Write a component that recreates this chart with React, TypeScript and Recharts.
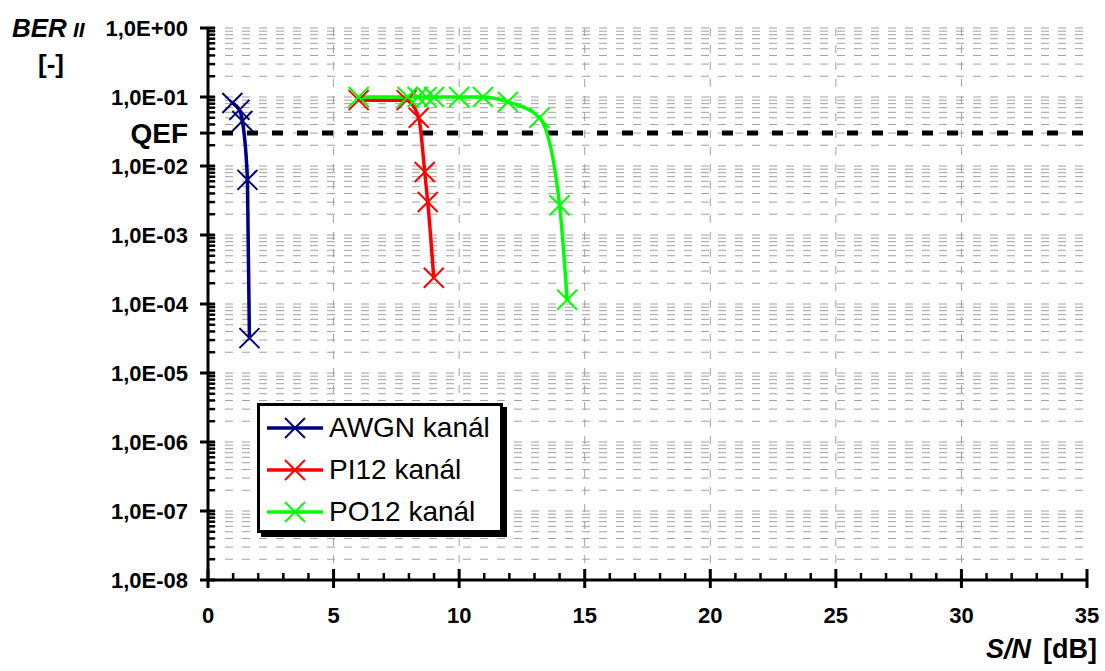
import React from 'react';
import { LineChart, Line, XAxis, YAxis, CartesianGrid, ReferenceLine, Legend } from 'recharts';

// S/N [dB] and BER values
const awgnSnr = [0.97, 1.25, 1.37, 1.57, 1.65];
const awgnBer = [0.082, 0.065, 0.045, 0.0063, 3.2e-5];

const pi12Snr = [6.0, 7.91, 8.39, 8.63, 8.75, 8.99];
const pi12Ber = [0.09, 0.09, 0.05, 0.0082, 0.003, 2.4e-4];

const po12Snr = [6.0, 7.95, 8.35, 8.7, 9.0, 10.0, 10.95, 11.94, 13.2, 14.0, 14.3];
const po12Ber = [0.1, 0.1, 0.1, 0.1, 0.1, 0.1, 0.1, 0.085, 0.05, 0.0027, 1.15e-4];

const qef = 0.03;

const xTicks = [0, 1, 2, 3, 4, 5, 6, 7, 8, 9, 10, 11, 12, 13, 14, 15, 16, 17, 18, 19, 20,
  21, 22, 23, 24, 25, 26, 27, 28, 29, 30, 31, 32, 33, 34, 35];
const xMajor = [0, 5, 10, 15, 20, 25, 30, 35];
const xGrid = [5, 10, 15, 20, 25, 30];

const decadeExps = [0, -1, -2, -3, -4, -5, -6, -7, -8];
const minorMult = [2, 3, 4, 5, 6, 7, 8, 9];

const yTicks: number[] = [];
decadeExps.forEach((e) => {
  yTicks.push(Math.pow(10, e));
  if (e < 0) minorMult.forEach((m) => yTicks.push(m * Math.pow(10, e)));
});

const series = [
  { name: 'AWGN kanál', color: '#000080', data: awgnSnr.map((x, i) => ({ x, y: awgnBer[i] })) },
  { name: 'PI12 kanál', color: '#ff0000', data: pi12Snr.map((x, i) => ({ x, y: pi12Ber[i] })) },
  { name: 'PO12 kanál', color: '#00ff00', data: po12Snr.map((x, i) => ({ x, y: po12Ber[i] })) },
];

const FONT = '"Liberation Sans", Arial, sans-serif';

const isDecade = (v: number) => Math.abs(Math.log10(v) - Math.round(Math.log10(v))) < 1e-6;

const fmtDecade = (v: number) => {
  const e = Math.round(Math.log10(v));
  return e >= 0 ? '1,0E+0' + e : '1,0E-0' + -e;
};

const YTick = (props: any) => {
  const { x, y, payload } = props;
  const v = payload.value;
  if (isDecade(v)) {
    return (
      <g>
        <line x1={x - 8} x2={x + 7} y1={y} y2={y} stroke="#000" strokeWidth={3} />
        <text x={x - 20} y={y + 8} textAnchor="end" fontFamily={FONT} fontWeight="bold" fontSize={22} fill="#000">
          {fmtDecade(v)}
        </text>
      </g>
    );
  }
  const isQef = Math.abs(v - qef) < 1e-9;
  return (
    <g>
      <line x1={x} x2={x + 7} y1={y} y2={y} stroke="#000" strokeWidth={2.5} />
      {isQef && <line x1={x - 8} x2={x} y1={y} y2={y} stroke="#000" strokeWidth={3} />}
      {isQef && (
        <text x={x - 20} y={y + 10} textAnchor="end" fontFamily={FONT} fontWeight="bold" fontSize={28} fill="#000">
          QEF
        </text>
      )}
    </g>
  );
};

const XTick = (props: any) => {
  const { x, y, payload } = props;
  const v = payload.value;
  if (xMajor.includes(v)) {
    return (
      <g>
        <line x1={x} x2={x} y1={y - 11} y2={y + 8} stroke="#000" strokeWidth={3} />
        <text x={x} y={y + 43} textAnchor="middle" fontFamily={FONT} fontWeight="bold" fontSize={22} fill="#000">
          {v}
        </text>
      </g>
    );
  }
  return <line x1={x} x2={x} y1={y - 7} y2={y} stroke="#000" strokeWidth={2.5} />;
};

const XMark = (props: any) => {
  const { cx, cy, stroke, index } = props;
  if (cx == null || cy == null) return <g key={index} />;
  return (
    <g key={index}>
      <line x1={cx - 10} y1={cy - 10} x2={cx + 10} y2={cy + 10} stroke={stroke} strokeWidth={2} />
      <line x1={cx - 10} y1={cy + 10} x2={cx + 10} y2={cy - 10} stroke={stroke} strokeWidth={2} />
    </g>
  );
};

const LegendBox = () => (
  <div
    style={{
      boxSizing: 'border-box',
      width: 246,
      height: 130,
      background: '#fff',
      border: '3px solid #000',
      boxShadow: '4px 4px 0 #000',
      paddingTop: 1,
      fontFamily: FONT,
    }}
  >
    {series.map((s) => (
      <div key={s.name} style={{ display: 'flex', alignItems: 'center', height: 42 }}>
        <svg width={56} height={24} style={{ marginLeft: 7, marginRight: 6 }}>
          <line x1={0} x2={56} y1={12} y2={12} stroke={s.color} strokeWidth={3.5} />
          <line x1={18} y1={2} x2={38} y2={22} stroke={s.color} strokeWidth={2} />
          <line x1={18} y1={22} x2={38} y2={2} stroke={s.color} strokeWidth={2} />
        </svg>
        <span style={{ fontSize: 28, color: '#000', whiteSpace: 'nowrap' }}>{s.name}</span>
      </div>
    ))}
  </div>
);

export default function App() {
  return (
    <div style={{ position: 'absolute', left: 0, top: 0, width: 1105, height: 671, background: '#fff' }}>
      <LineChart width={1105} height={671} margin={{ top: 28, right: 18, bottom: 51, left: 8 }}>
        <CartesianGrid
          stroke="#a0a0a0"
          strokeDasharray="8 9"
          verticalValues={xGrid}
          horizontalValues={yTicks}
        />
        <XAxis
          type="number"
          dataKey="x"
          domain={[0, 35]}
          ticks={xTicks}
          interval={0}
          allowDataOverflow
          height={40}
          tickSize={0}
          tickMargin={0}
          tickLine={false}
          axisLine={{ stroke: '#000', strokeWidth: 3 }}
          tick={<XTick />}
        />
        <YAxis
          scale="log"
          type="number"
          dataKey="y"
          domain={[1e-8, 1]}
          ticks={yTicks}
          interval={0}
          allowDataOverflow
          width={200}
          tickSize={0}
          tickMargin={0}
          tickLine={false}
          axisLine={{ stroke: '#000', strokeWidth: 3 }}
          tick={<YTick />}
        />
        <ReferenceLine y={qef} stroke="#000" strokeWidth={5} strokeDasharray="11 14" strokeDashoffset={-14} />
        <Legend
          layout="vertical"
          align="center"
          verticalAlign="middle"
          wrapperStyle={{ left: 257, top: 403, width: 250 }}
          content={() => <LegendBox />}
        />
        {series.map((s) => (
          <Line
            key={s.name}
            data={s.data}
            dataKey="y"
            name={s.name}
            type="monotone"
            stroke={s.color}
            strokeWidth={3.5}
            dot={(p: any) => <XMark key={p.index} {...p} stroke={s.color} />}
            activeDot={false}
            isAnimationActive={false}
          />
        ))}
      </LineChart>
      <div style={{ position: 'absolute', left: 12, top: 13, fontFamily: FONT, fontWeight: 'bold', fontStyle: 'italic', color: '#000', whiteSpace: 'nowrap' }}>
        <span style={{ fontSize: 26 }}>BER</span>
        <span style={{ fontSize: 21, marginLeft: 6 }}>II</span>
      </div>
      <div style={{ position: 'absolute', left: 38, top: 49, fontFamily: FONT, fontWeight: 'bold', fontSize: 26, color: '#000' }}>
        [-]
      </div>
      <div style={{ position: 'absolute', left: 986, top: 634, fontFamily: FONT, fontWeight: 'bold', fontSize: 27, color: '#000', whiteSpace: 'nowrap' }}>
        <span style={{ fontStyle: 'italic' }}>S/N</span>
        <span style={{ marginLeft: 12 }}>[dB]</span>
      </div>
    </div>
  );
}
